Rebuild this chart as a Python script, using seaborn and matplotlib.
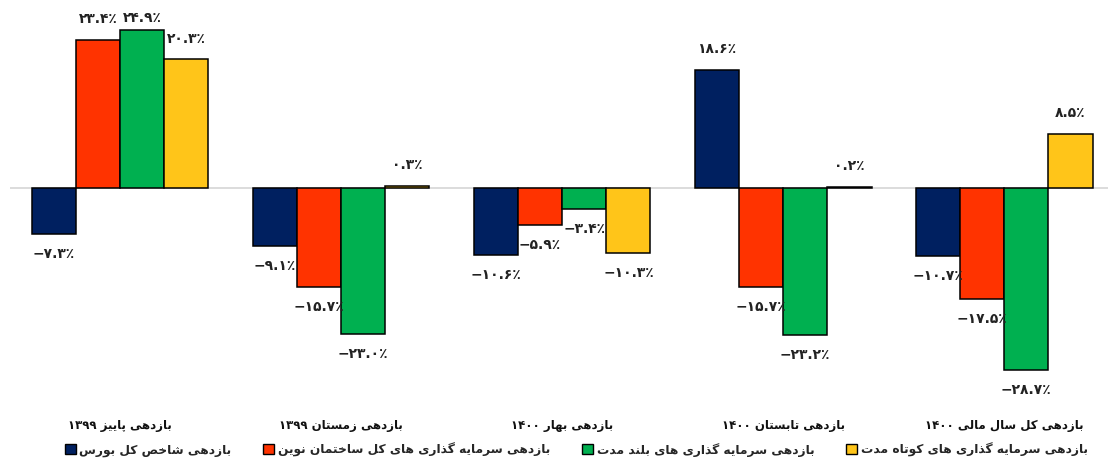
import numpy as np
import pandas as pd
import matplotlib
matplotlib.use("Agg")
import matplotlib.pyplot as plt
from matplotlib.patches import Patch
import seaborn as sns

# ---- data -------------------------------------------------------------
groups = [
    "بازدهی پاییز ۱۳۹۹",
    "بازدهی زمستان ۱۳۹۹",
    "بازدهی بهار ۱۴۰۰",
    "بازدهی تابستان ۱۴۰۰",
    "بازدهی کل سال مالی ۱۴۰۰",
]
series = [
    "بازدهی شاخص کل بورس",
    "بازدهی سرمایه گذاری های کل ساختمان نوین",
    "بازدهی سرمایه گذاری های بلند مدت",
    "بازدهی سرمایه گذاری های کوتاه مدت",
]
index_return = [-7.3, -9.1, -10.6, 18.6, -10.7]
total_return = [23.4, -15.7, -5.9, -15.7, -17.5]
long_term = [24.9, -23.0, -3.4, -23.2, -28.7]
short_term = [20.3, 0.3, -10.3, 0.2, 8.5]
colors = ["#002060", "#FF3300", "#00B050", "#FFC519"]

# ---- minimal Persian shaping (contextual forms + visual order) -------
FORMS = {
    "ا": ("\uFE8D", "\uFE8E", None, None),
    "د": ("\uFEA9", "\uFEAA", None, None),
    "ذ": ("\uFEAB", "\uFEAC", None, None),
    "ر": ("\uFEAD", "\uFEAE", None, None),
    "ز": ("\uFEAF", "\uFEB0", None, None),
    "و": ("\uFEED", "\uFEEE", None, None),
    "ب": ("\uFE8F", "\uFE90", "\uFE91", "\uFE92"),
    "پ": ("\uFB56", "\uFB57", "\uFB58", "\uFB59"),
    "ت": ("\uFE95", "\uFE96", "\uFE97", "\uFE98"),
    "خ": ("\uFEA5", "\uFEA6", "\uFEA7", "\uFEA8"),
    "س": ("\uFEB1", "\uFEB2", "\uFEB3", "\uFEB4"),
    "ش": ("\uFEB5", "\uFEB6", "\uFEB7", "\uFEB8"),
    "ص": ("\uFEB9", "\uFEBA", "\uFEBB", "\uFEBC"),
    "ک": ("\uFB8E", "\uFB8F", "\uFB90", "\uFB91"),
    "گ": ("\uFB92", "\uFB93", "\uFB94", "\uFB95"),
    "ل": ("\uFEDD", "\uFEDE", "\uFEDF", "\uFEE0"),
    "م": ("\uFEE1", "\uFEE2", "\uFEE3", "\uFEE4"),
    "ن": ("\uFEE5", "\uFEE6", "\uFEE7", "\uFEE8"),
    "ه": ("\uFEE9", "\uFEEA", "\uFEEB", "\uFEEC"),
    "ی": ("\uFBFC", "\uFBFD", "\uFBFE", "\uFBFF"),
}


def shape_word(word):
    out = []
    n = len(word)
    for i, ch in enumerate(word):
        if ch not in FORMS:
            out.append(ch)
            continue
        prev = word[i - 1] if i > 0 else None
        nxt = word[i + 1] if i < n - 1 else None
        join_prev = prev in FORMS and FORMS[prev][2] is not None
        join_next = nxt in FORMS and FORMS[ch][2] is not None
        isol, fina, init, medi = FORMS[ch]
        if join_prev and join_next:
            out.append(medi)
        elif join_prev:
            out.append(fina)
        elif join_next:
            out.append(init)
        else:
            out.append(isol)
    return "".join(out)


def rtl(text):
    words = []
    for w in text.split(" ")[::-1]:
        if any(c in FORMS for c in w):
            words.append(shape_word(w)[::-1])
        else:
            words.append(w)
    return " ".join(words)


FA_DIGITS = str.maketrans("0123456789-", "۰۱۲۳۴۵۶۷۸۹−")


def pct(v):
    return f"{v:.1f}".translate(FA_DIGITS) + "٪"


# ---- frame ------------------------------------------------------------
group_lbl = [rtl(g) for g in groups]
series_lbl = [rtl(s) for s in series]
values = [index_return, total_return, long_term, short_term]
df = pd.DataFrame(
    [(group_lbl[g], series_lbl[s], values[s][g])
     for s in range(len(series)) for g in range(len(groups))],
    columns=["group", "series", "value"],
)

sns.set_theme(style="white")
plt.rcParams["font.family"] = ["DejaVu Sans"]

fig = plt.figure(figsize=(11.08, 4.64), dpi=100)
ax = fig.add_axes([9.5 / 1108, 69 / 464, 1 - 9.5 / 1108, 390 / 464])

sns.barplot(
    data=df, x="group", y="value", hue="series",
    order=group_lbl, hue_order=series_lbl,
    palette=colors, saturation=1, edgecolor="black", linewidth=1.1,
    width=0.8, legend=False, ax=ax, zorder=2,
)

ax.axhline(0, color="#d9d9d9", lw=1.3, zorder=1)
ax.set_xlim(-0.5, 4.47)
ax.set_ylim(-32.5, 29.0)
ax.set_xlabel("")
ax.set_ylabel("")
ax.set_yticks([])
ax.tick_params(axis="x", length=0, pad=17)
for lbl in ax.get_xticklabels():
    lbl.set_fontweight("bold")
    lbl.set_fontsize(8.5)
    lbl.set_color("#111111")
for sp in ax.spines.values():
    sp.set_visible(False)

# value labels outside the end of each bar
for cont in ax.containers:
    for bar in cont:
        h = bar.get_height()
        xc = bar.get_x() + bar.get_width() / 2
        if h >= 0:
            y = min(h + 3.4, 27.0)
        else:
            y = h - 3.0
        ax.text(xc, y, pct(h), ha="center", va="center",
                fontsize=10, fontweight="bold", color="#222222")

handles = [Patch(facecolor=c, edgecolor="black", linewidth=1.0) for c in colors]
fig.legend(handles, series_lbl, loc="center", bbox_to_anchor=(0.52, 0.03),
           ncol=4, frameon=False, prop={"weight": "bold", "size": 8.8},
           handlelength=0.9, handleheight=0.9, handletextpad=0.3,
           columnspacing=2.6)

fig.savefig("out.png", dpi=100, facecolor="white")
